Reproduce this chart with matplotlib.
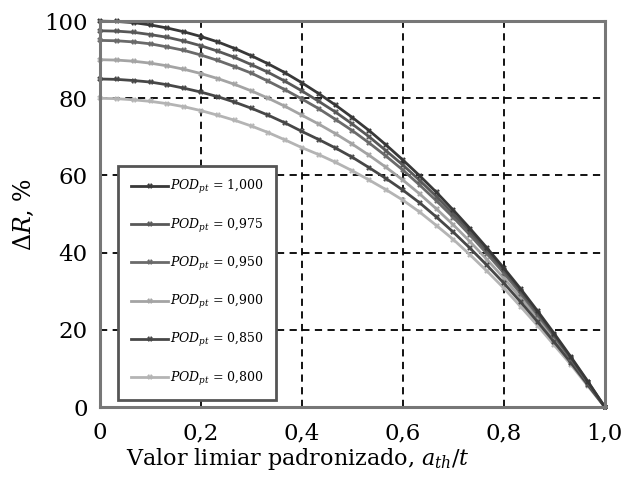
import matplotlib
matplotlib.use('Agg')
import matplotlib.pyplot as plt

plt.rcParams['font.family'] = 'DejaVu Serif'
plt.rcParams['mathtext.fontset'] = 'dejavuserif'

# threshold a_th/t, 30 steps from 0 to 1
x = [i / 30 for i in range(31)]

pod_labels = ['1,000', '0,975', '0,950', '0,900', '0,850', '0,800']

dr_1000 = [100.0, 99.9, 99.6, 99.0, 98.2, 97.2, 96.0, 94.6, 92.9, 91.0, 88.9,
           86.6, 84.0, 81.2, 78.2, 75.0, 71.6, 67.9, 64.0, 59.9, 55.6, 51.0,
           46.2, 41.2, 36.0, 30.6, 24.9, 19.0, 12.9, 6.6, 0.0]
dr_0975 = [97.5, 97.4, 97.1, 96.5, 95.8, 94.8, 93.6, 92.2, 90.6, 88.7, 86.7,
           84.4, 81.9, 79.2, 76.4, 73.3, 70.0, 66.4, 62.7, 58.7, 54.5, 50.0,
           45.4, 40.5, 35.4, 30.0, 24.4, 18.6, 12.6, 6.4, 0.0]
dr_0950 = [95.0, 94.9, 94.6, 94.1, 93.3, 92.4, 91.2, 89.8, 88.2, 86.5, 84.4,
           82.2, 79.8, 77.3, 74.5, 71.6, 68.4, 65.0, 61.4, 57.5, 53.4, 49.1,
           44.5, 39.7, 34.7, 29.4, 23.9, 18.3, 12.4, 6.3, 0.0]
dr_0900 = [90.0, 89.9, 89.6, 89.1, 88.4, 87.5, 86.4, 85.1, 83.6, 81.9, 80.0,
           77.9, 75.6, 73.3, 70.8, 68.1, 65.2, 62.1, 58.8, 55.2, 51.3, 47.2,
           42.8, 38.2, 33.4, 28.3, 23.0, 17.5, 11.9, 6.0, 0.0]
dr_0850 = [85.0, 84.9, 84.6, 84.2, 83.5, 82.6, 81.6, 80.4, 79.0, 77.4, 75.6,
           73.6, 71.4, 69.3, 67.1, 64.7, 62.0, 59.2, 56.2, 52.9, 49.2, 45.3,
           41.1, 36.7, 32.1, 27.2, 22.1, 16.8, 11.4, 5.7, 0.0]
dr_0800 = [80.0, 79.9, 79.6, 79.2, 78.6, 77.8, 76.8, 75.6, 74.3, 72.8, 71.1,
           69.2, 67.2, 65.4, 63.4, 61.2, 58.8, 56.3, 53.6, 50.5, 47.0, 43.4,
           39.4, 35.2, 30.8, 26.0, 21.1, 16.0, 10.9, 5.4, 0.0]

series = [dr_1000, dr_0975, dr_0950, dr_0900, dr_0850, dr_0800]
colors = ['#383838', '#585858', '#6a6a6a', '#a4a4a4', '#474747', '#b4b4b4']

fig = plt.figure(figsize=(6.3, 4.91), dpi=100)
ax = fig.add_axes([0.159, 0.171, 0.801, 0.786])

# draw light curves first so the dark ones sit on top
order = [5, 3, 4, 2, 1, 0]
lines = {}
for k in order:
    ln, = ax.plot(x, series[k], color=colors[k], lw=2.0, marker='X',
                  markersize=4, markeredgewidth=0, clip_on=False,
                  label=r'$POD_{pt}$ = ' + pod_labels[k])
    lines[k] = ln

ax.set_xlim(0, 1)
ax.set_ylim(0, 100)
ax.set_xticks([0, 0.2, 0.4, 0.6, 0.8, 1.0])
ax.set_xticklabels(['0', '0,2', '0,4', '0,6', '0,8', '1,0'])
ax.set_yticks([0, 20, 40, 60, 80, 100])
ax.tick_params(labelsize=16.5, length=0)
ax.tick_params(axis='x', pad=11)
ax.tick_params(axis='y', pad=9)
ax.grid(True, color='black', linestyle=(0, (4, 3)), linewidth=1.3)

for s in ax.spines.values():
    s.set_color('#777777')
    s.set_linewidth(2.2)

ax.set_xlabel(r'Valor limiar padronizado, $a_{th}/t$', fontsize=16)
ax.xaxis.set_label_coords(0.392, -0.1)
ax.set_ylabel(r'$\Delta R$, %', fontsize=17, labelpad=6)

leg = ax.legend([lines[k] for k in range(6)], [lines[k].get_label() for k in range(6)],
                loc='lower left', bbox_to_anchor=(0.036, 0.018), fontsize=9,
                labelspacing=1.62, handlelength=3.0,
                handletextpad=0.15, borderpad=1.0, borderaxespad=0,
                fancybox=False, framealpha=1, edgecolor='#555555')
leg.get_frame().set_linewidth(2)

fig.savefig('out.png', dpi=100)
